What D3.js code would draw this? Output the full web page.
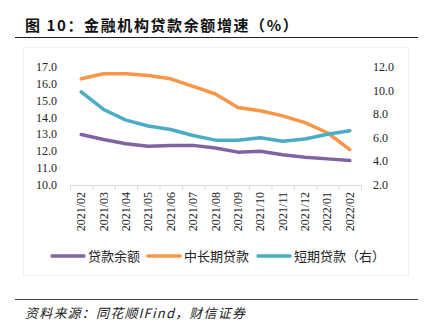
<!DOCTYPE html>
<html>
<head>
<meta charset="utf-8">
<script src="https://cdn.jsdelivr.net/npm/d3@7.9.0/dist/d3.min.js"></script>
<style>
  body { margin: 0; background: #fff; }
  svg { display: block; }
</style>
</head>
<body>
<div id="chart"></div>
<script>
const months = ['2021/02', '2021/03', '2021/04', '2021/05', '2021/06', '2021/07', '2021/08',
  '2021/09', '2021/10', '2021/11', '2021/12', '2022/01', '2022/02'];
const totalLoans = [13.0, 12.7, 12.45, 12.3, 12.35, 12.35, 12.2, 11.95, 12.0, 11.8, 11.65, 11.55, 11.45];
const longTermLoans = [16.3, 16.6, 16.6, 16.5, 16.3, 15.85, 15.4, 14.6, 14.4, 14.1, 13.7, 13.1, 12.1];
const shortTermLoans = [9.9, 8.4, 7.5, 7.0, 6.7, 6.2, 5.8, 5.8, 6.0, 5.7, 5.9, 6.3, 6.6];
const leftTicks = [10, 11, 12, 13, 14, 15, 16, 17];
const rightTicks = [2, 4, 6, 8, 10, 12];

const width = 427;
const height = 325;
const plot = { left: 70, right: 361, top: 67, bottom: 185 };

const svg = d3.select('#chart').append('svg')
  .attr('width', width)
  .attr('height', height);

const serif = '"Liberation Serif", "Times New Roman", serif';
const cjk = '"Noto Sans CJK SC", sans-serif';

// title
svg.append('text')
  .attr('x', 25).attr('y', 31)
  .attr('font-family', cjk)
  .attr('font-weight', 'bold')
  .attr('font-size', 15)
  .attr('letter-spacing', 1.6)
  .attr('fill', '#111')
  .text('图 10：金融机构贷款余额增速（%）');

svg.append('line')
  .attr('x1', 15).attr('x2', 418).attr('y1', 37.5).attr('y2', 37.5)
  .attr('stroke', '#222').attr('stroke-width', 1.2);

// faint chart frame
svg.append('rect')
  .attr('x', 23.5).attr('y', 47.5).attr('width', 385).attr('height', 228)
  .attr('fill', 'none').attr('stroke', '#f2f2f2');

const x = d3.scaleBand().domain(months).range([plot.left, plot.right]);
const yLeft = d3.scaleLinear().domain([10, 17]).range([plot.bottom, plot.top]);
const yRight = d3.scaleLinear().domain([2, 12]).range([plot.bottom, plot.top]);

// x axis
const xAxis = svg.append('g')
  .attr('transform', `translate(0, ${plot.bottom})`);
xAxis.append('line')
  .attr('x1', plot.left).attr('x2', plot.right)
  .attr('y1', 0.5).attr('y2', 0.5)
  .attr('stroke', '#d9d9d9');
xAxis.selectAll('.tick')
  .data(months.concat(['end']))
  .join('line')
  .attr('x1', (d, i) => (i < months.length ? x(d) : plot.right) + 0.5)
  .attr('x2', (d, i) => (i < months.length ? x(d) : plot.right) + 0.5)
  .attr('y1', 0).attr('y2', 5)
  .attr('stroke', '#d9d9d9');
xAxis.selectAll('text')
  .data(months)
  .join('text')
  .attr('transform', (d) => `translate(${x(d) + x.bandwidth() / 2 + 4}, 7) rotate(-90)`)
  .attr('text-anchor', 'end')
  .attr('font-family', serif)
  .attr('font-size', 12)
  .attr('fill', '#222')
  .text((d) => d);

// left axis labels
svg.append('g')
  .selectAll('text')
  .data(leftTicks)
  .join('text')
  .attr('x', 57)
  .attr('y', (d) => yLeft(d) + 4)
  .attr('text-anchor', 'end')
  .attr('font-family', serif)
  .attr('font-size', 12)
  .attr('fill', '#222')
  .text((d) => d.toFixed(1));

// right axis labels
svg.append('g')
  .selectAll('text')
  .data(rightTicks)
  .join('text')
  .attr('x', 373)
  .attr('y', (d) => yRight(d) + 4)
  .attr('font-family', serif)
  .attr('font-size', 12)
  .attr('fill', '#222')
  .text((d) => d.toFixed(1));

const series = [
  { name: '贷款余额', values: totalLoans, scale: yLeft, color: '#8064a2' },
  { name: '中长期贷款', values: longTermLoans, scale: yLeft, color: '#f79646' },
  { name: '短期贷款（右）', values: shortTermLoans, scale: yRight, color: '#4bacc6' },
];

const cx = (i) => x(months[i]) + x.bandwidth() / 2;

svg.append('g')
  .selectAll('path')
  .data(series)
  .join('path')
  .attr('fill', 'none')
  .attr('stroke', (s) => s.color)
  .attr('stroke-width', 3.5)
  .attr('stroke-linejoin', 'round')
  .attr('stroke-linecap', 'round')
  .attr('d', (s) => d3.line()
    .x((d, i) => cx(i))
    .y((d) => s.scale(d))(s.values));

// legend
const legendX = [52, 148, 258];
const legend = svg.append('g')
  .selectAll('g')
  .data(series)
  .join('g')
  .attr('transform', (s, i) => `translate(${legendX[i]}, 256)`);
legend.append('line')
  .attr('x1', 0).attr('x2', 32)
  .attr('stroke', (s) => s.color)
  .attr('stroke-width', 3.5)
  .attr('stroke-linecap', 'round');
legend.append('text')
  .attr('x', 36).attr('y', 5)
  .attr('font-family', cjk)
  .attr('font-size', 13)
  .attr('fill', '#222')
  .text((s) => s.name);

// footer
svg.append('line')
  .attr('x1', 15).attr('x2', 418).attr('y1', 299.5).attr('y2', 299.5)
  .attr('stroke', '#444').attr('stroke-width', 1.2);

svg.append('text')
  .attr('x', 25).attr('y', 318)
  .attr('font-family', cjk)
  .attr('font-style', 'italic')
  .attr('font-size', 13)
  .attr('letter-spacing', 1.2)
  .attr('fill', '#222')
  .text('资料来源：同花顺IFind，财信证券');
</script>
</body>
</html>
